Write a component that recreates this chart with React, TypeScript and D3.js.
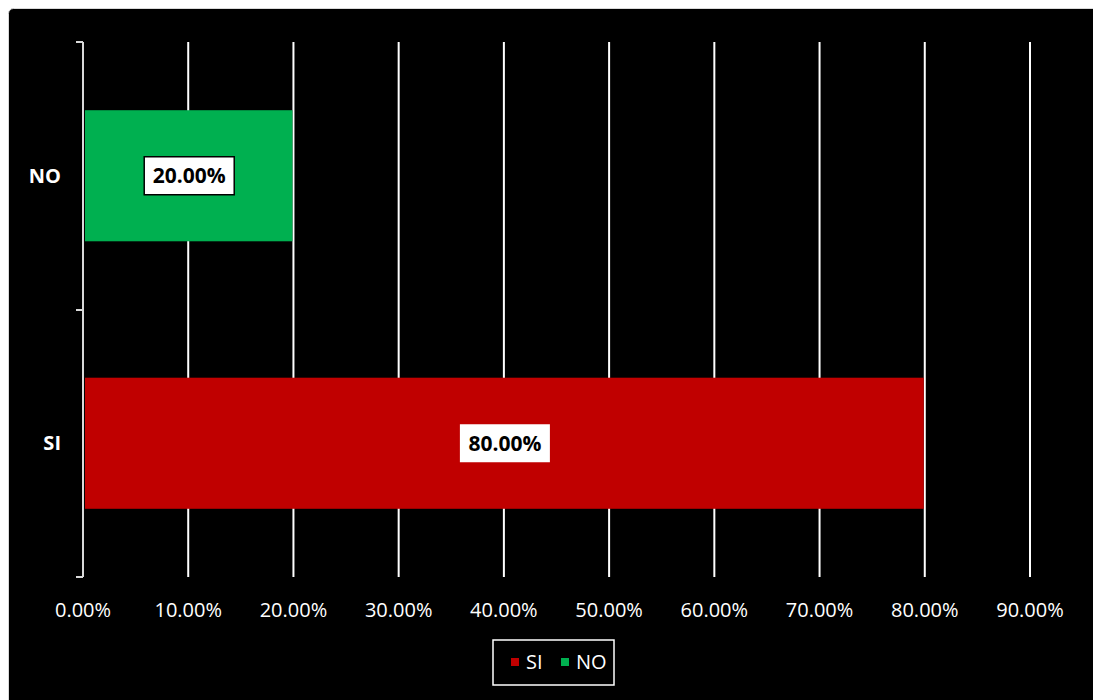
import React from "react";
import * as d3 from "d3";

const categories = ["NO", "SI"];
const values = [0.2, 0.8];
const colors = ["#00B050", "#C00000"];
const xTicks = [0, 0.1, 0.2, 0.3, 0.4, 0.5, 0.6, 0.7, 0.8, 0.9];
const legendItems = ["SI", "NO"];
const legendColors = ["#C00000", "#00B050"];

const FONT = "'Open Sans', 'Noto Sans', sans-serif";

export default function App() {
  const W = 1093;
  const H = 700;
  const x = d3.scaleLinear().domain([0, 0.9]).range([83, 1030]);
  const y = d3.scaleBand<string>().domain(categories).range([42, 577]).padding(0);
  const barH = y.bandwidth() * 0.49;
  const fmt = d3.format(".2%");

  return (
    <svg
      width={W}
      height={H}
      style={{ position: "absolute", left: 0, top: 0, display: "block" }}
    >
      <rect x={0} y={0} width={W} height={H} fill="#fff" />
      <rect x={8.5} y={8.5} width={W} height={H} rx={5} fill="#000" stroke="#d9d9d9" strokeWidth={1} />
      {/* gridlines */}
      {xTicks.slice(1).map((t) => (
        <line key={t} x1={x(t)} x2={x(t)} y1={42} y2={577} stroke="#ffffff" strokeWidth={2} />
      ))}
      {/* bars */}
      {categories.map((c, i) => {
        const yc = (y(c) as number) + y.bandwidth() / 2;
        return (
          <rect
            key={c}
            x={x(0) + 2}
            y={yc - barH / 2}
            width={x(values[i]) - x(0) - 3}
            height={barH}
            fill={colors[i]}
          />
        );
      })}
      {/* y axis */}
      <line x1={83} x2={83} y1={42} y2={577} stroke="#d9d9d9" strokeWidth={2} />
      {[42, 310, 577].map((v) => (
        <line key={v} x1={76} x2={83} y1={v} y2={v} stroke="#d9d9d9" strokeWidth={2} />
      ))}
      {/* category labels */}
      {categories.map((c) => {
        const yc = (y(c) as number) + y.bandwidth() / 2;
        return (
          <text
            key={c}
            x={61}
            y={yc}
            dy="0.35em"
            textAnchor="end"
            fill="#fff"
            fontFamily={FONT}
            fontWeight="bold"
            fontSize={20}
          >
            {c}
          </text>
        );
      })}
      {/* data labels */}
      {categories.map((c, i) => {
        const yc = (y(c) as number) + y.bandwidth() / 2;
        const xc = (x(0) + 2 + x(values[i])) / 2;
        return (
          <g key={c}>
            <rect
              x={xc - 45}
              y={yc - 19}
              width={90}
              height={38}
              fill="#fff"
              stroke={c === "NO" ? "#000" : "none"}
              strokeWidth={1.5}
            />
            <text
              x={xc}
              y={yc}
              dy="0.36em"
              textAnchor="middle"
              fill="#000"
              fontFamily={FONT}
              fontWeight="bold"
              fontSize={21}
            >
              {fmt(values[i])}
            </text>
          </g>
        );
      })}
      {/* x tick labels */}
      {xTicks.map((t) => (
        <text
          key={t}
          x={x(t)}
          y={610}
          dy="0.36em"
          textAnchor="middle"
          fill="#fff"
          fontFamily={FONT}
          fontSize={20}
        >
          {fmt(t)}
        </text>
      ))}
      {/* legend */}
      <rect x={493} y={640} width={121} height={45} fill="#000" stroke="#fff" strokeWidth={1.5} />
      {legendItems.map((l, i) => {
        const lx = [511, 561][i];
        return (
          <g key={l}>
            <rect x={lx} y={658} width={8} height={8} fill={legendColors[i]} />
            <text
              x={lx + 15}
              y={662}
              dy="0.36em"
              fill="#fff"
              fontFamily={FONT}
              fontSize={20}
            >
              {l}
            </text>
          </g>
        );
      })}
    </svg>
  );
}
